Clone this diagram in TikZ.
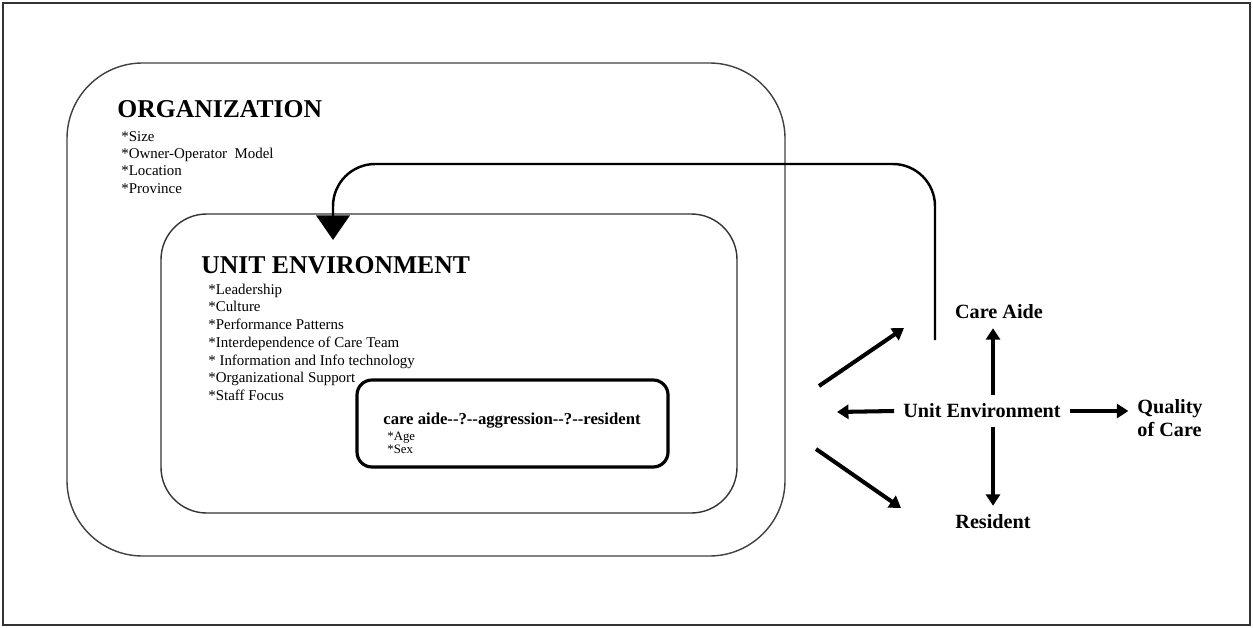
\documentclass[tikz,border=0pt]{standalone}
\usepackage{fontspec}
\setmainfont{Liberation Serif}
\usetikzlibrary{arrows.meta,positioning,shadows}

\begin{document}
\begin{tikzpicture}[x=0.02cm, y=-0.02cm,
   frame/.style={draw=black!80, line width=0.9pt},
   orgbox/.style={draw=black!75, line width=0.8pt, rounded corners=43pt},
   unitbox/.style={draw=black!80, line width=0.8pt, rounded corners=26pt},
   focusbox/.style={draw, fill=white, line width=1.8pt, rounded corners=8.5pt,
      drop shadow={opacity=0.3, shadow xshift=0.8pt, shadow yshift=-0.8pt}},
   heading/.style={font=\fontsize{14.6}{16}\selectfont\bfseries, anchor=base west, inner sep=0},
   item/.style={font=\fontsize{8.5}{10}\selectfont, anchor=base west, inner sep=0},
   smallitem/.style={font=\fontsize{7.3}{8}\selectfont, anchor=base west, inner sep=0},
   sidelabel/.style={font=\fontsize{11.5}{13}\selectfont\bfseries, inner sep=5pt},
   fat/.style={line width=2.3pt, -{Triangle[length=6.5pt, width=8pt]}},
   feedback/.style={line width=1.4pt, rounded corners=24pt, -{Triangle[length=14pt, width=19pt]}}]
   \useasboundingbox (0,0) rectangle (1253,628);
   \draw[frame] (3,3) rectangle (1250,625);

   % nested boxes
   \draw[orgbox] (67,63) rectangle (785,556);
   \draw[unitbox] (161,214) rectangle (737,513);
   \draw[focusbox] (357,380) rectangle (668,467);

   \node[heading] (orgtitle) at (117,118) {ORGANIZATION};
   \foreach \txt [count=\i] in {*Size, *Owner-Operator\ \ Model, *Location, *Province}
      \node[item] (org\i) at (121,124+17.3*\i) {\txt};

   \node[heading] (unittitle) at (201,273) {UNIT ENVIRONMENT};
   \foreach \txt [count=\i] in {*Leadership, *Culture, *Performance Patterns,
         *Interdependence of Care Team, * Information and Info technology,
         *Organizational Support, *Staff Focus}
      \node[item] (unit\i) at (208,276.5+17.7*\i) {\txt};

   \node[font=\fontsize{9.5}{11}\selectfont\bfseries, anchor=base west, inner sep=0]
      (focus) at (383,424) {care aide-{}-?-{}-aggression-{}-?-{}-resident};
   \node[smallitem] (age) at (387,440) {*Age};
   \node[smallitem] (sex) at (387,453) {*Sex};

   % right hand side
   \node[sidelabel] (ue) at (982,411) {Unit Environment};
   \node[sidelabel] (ca) at (999,312) {Care Aide};
   \node[sidelabel] (res) at (993,522) {Resident};
   \node[sidelabel, align=left] (qc) at (1170,418) {Quality\\of Care};

   \coordinate (lt) at (837,412);
   \coordinate (d1s) at (819,386);
   \coordinate (d1e) at (904,328);
   \coordinate (d2s) at (816,449);
   \coordinate (d2e) at (901,508);
   \coordinate (fbs) at (935,340);
   \coordinate (fbe) at (333,240);

   \draw[fat] (ue.north -| res) -- (ca.south -| res);
   \draw[fat] (ue.south -| res) -- (res.north);
   \draw[fat] (ue.west) -- (lt);
   \draw[fat] (ue.east) -- (qc.west |- ue.east);
   \draw[fat] (d1s) -- (d1e);
   \draw[fat] (d2s) -- (d2e);

   \draw[feedback] (fbs) |- (333,164) -- (fbe);
\end{tikzpicture}
\end{document}
